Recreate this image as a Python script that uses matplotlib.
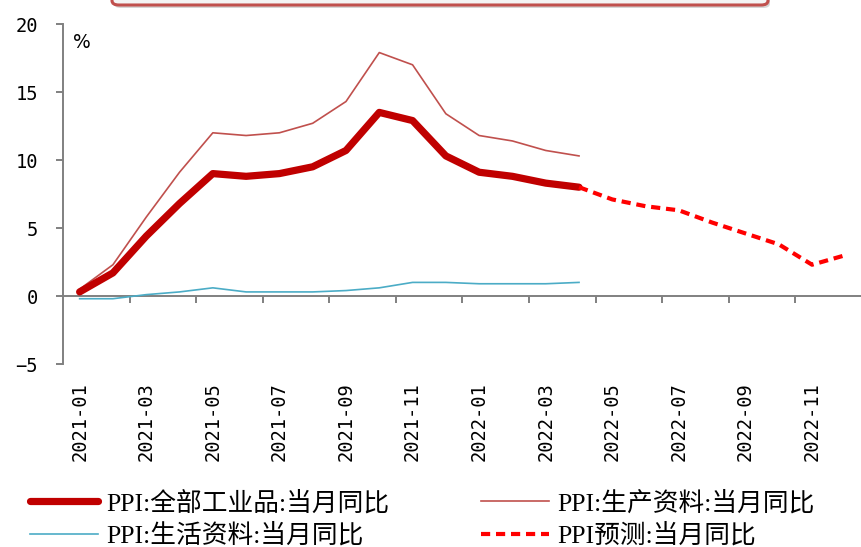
import matplotlib
matplotlib.use('Agg')
import matplotlib.pyplot as plt
from matplotlib.patches import FancyBboxPatch
import numpy as np

# monthly categories 2021-01 .. 2022-12
months = ['2021-01', '2021-02', '2021-03', '2021-04', '2021-05', '2021-06',
          '2021-07', '2021-08', '2021-09', '2021-10', '2021-11', '2021-12',
          '2022-01', '2022-02', '2022-03', '2022-04', '2022-05', '2022-06',
          '2022-07', '2022-08', '2022-09', '2022-10', '2022-11', '2022-12']

ppi_all = [0.3, 1.7, 4.4, 6.8, 9.0, 8.8, 9.0, 9.5, 10.7, 13.5, 12.9, 10.3,
           9.1, 8.8, 8.3, 8.0]
ppi_prod = [0.5, 2.3, 5.8, 9.1, 12.0, 11.8, 12.0, 12.7, 14.3, 17.9, 17.0, 13.4,
            11.8, 11.4, 10.7, 10.3]
ppi_life = [-0.2, -0.2, 0.1, 0.3, 0.6, 0.3, 0.3, 0.3, 0.4, 0.6, 1.0, 1.0,
            0.9, 0.9, 0.9, 1.0]
# forecast from 2022-04 onward
ppi_fcst = [8.0, 7.1, 6.6, 6.3, 5.4, 4.6, 3.8, 2.3, 3.0]

labels = ['PPI:全部工业品:当月同比', 'PPI:生产资料:当月同比',
          'PPI:生活资料:当月同比', 'PPI预测:当月同比']

grey = '#808080'

fig = plt.figure(figsize=(8.62, 5.47), dpi=100)
ax = fig.add_axes([63 / 862, 1 - 364 / 547, 799 / 862, 340 / 547])

x = np.arange(len(months))
n = len(ppi_all)
l_all, = ax.plot(x[:n], ppi_all, color='#C00000', lw=5.2,
                 solid_capstyle='round', solid_joinstyle='round', zorder=4)
l_prod, = ax.plot(x[:n], ppi_prod, color='#C0504D', lw=1.2, zorder=3)
l_life, = ax.plot(x[:n], ppi_life, color='#4BACC6', lw=1.2, zorder=3)
l_fcst, = ax.plot(x[n - 1:], ppi_fcst, color='#FF0000', lw=3.0,
                  linestyle=(0, (2.2, 1.4)), zorder=5)

ax.set_xlim(-0.5, len(months) - 0.5)
ax.set_ylim(-5, 20)
ax.set_yticks([-5, 0, 5, 10, 15, 20])

for side in ['top', 'right', 'bottom']:
    ax.spines[side].set_visible(False)
ax.spines['left'].set_color(grey)
ax.spines['left'].set_linewidth(1.4)
ax.tick_params(axis='y', length=5, width=1.4, color=grey, pad=13,
               labelsize=13.5)

# category labels sit below the plot
ax.set_xticks(x[::2])
ax.set_xticklabels(months[::2], rotation=90)
ax.tick_params(axis='x', length=0, pad=13, labelsize=13.5)
for lab in ax.get_xticklabels() + ax.get_yticklabels():
    lab.set_family('DejaVu Sans Mono')

# zero line with tick marks between categories
zero = ax.secondary_xaxis(0.2)
zero.set_xticks(np.arange(1.5, len(months) - 1, 2))
zero.tick_params(axis='x', direction='out', length=5, width=1.4, color=grey,
                 labelbottom=False)
zero.spines['bottom'].set_color(grey)
zero.spines['bottom'].set_linewidth(1.4)

ax.text(0.012, 0.945, '%', transform=ax.transAxes, fontsize=13.5,
        family='DejaVu Sans', ha='left', va='center')

# header box running off the top edge
shadow = FancyBboxPatch((114 / 862, 1 - 8 / 547), 656 / 862, 40 / 547,
                        boxstyle='round,pad=0,rounding_size=0.008',
                        transform=fig.transFigure, facecolor='#bbbbbb',
                        edgecolor='none', alpha=0.6, zorder=1)
box = FancyBboxPatch((112 / 862, 1 - 5 / 547), 656 / 862, 40 / 547,
                     boxstyle='round,pad=0,rounding_size=0.008',
                     transform=fig.transFigure, facecolor='#f4f4f4',
                     edgecolor='#C0504D', lw=2.2, zorder=2)
fig.patches.extend([shadow, box])

# two legend columns placed separately
leg_kw = dict(loc='upper left', frameon=False, borderpad=0, borderaxespad=0,
              handlelength=2.65, handletextpad=0.3, labelspacing=0.31,
              prop={'family': ['Liberation Serif', 'Noto Sans CJK SC'],
                    'size': 18.5})
fig.legend([l_all, l_life], [labels[0], labels[2]],
           bbox_to_anchor=(30 / 862, 1 - 491 / 547), **leg_kw)
fig.legend([l_prod, l_fcst], [labels[1], labels[3]],
           bbox_to_anchor=(481 / 862, 1 - 491 / 547), **leg_kw)

fig.savefig('out.png', dpi=100)
